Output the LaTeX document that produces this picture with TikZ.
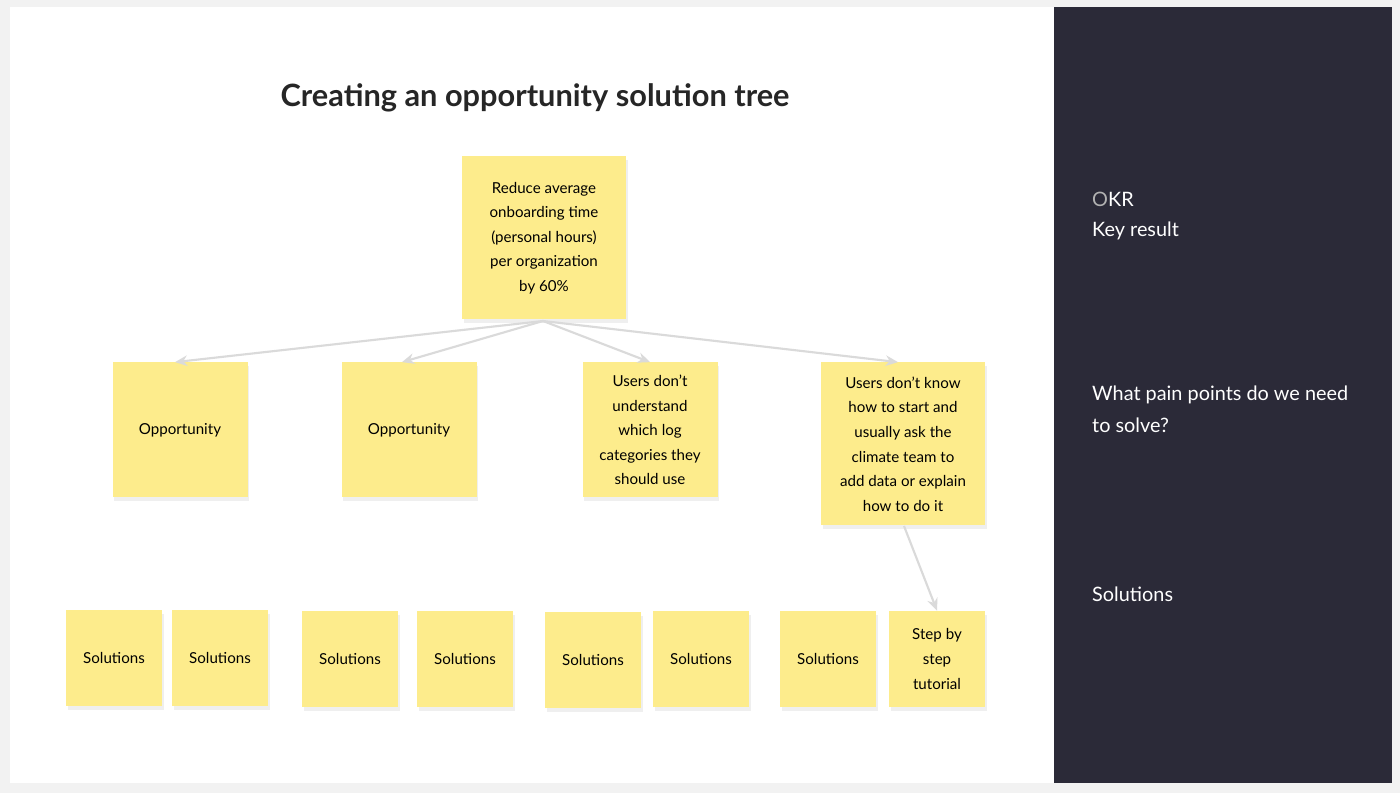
\documentclass[tikz,border=0pt]{standalone}
\usepackage{fontspec}
\setmainfont{Lato}
\usetikzlibrary{arrows.meta, shadows}

\definecolor{sticky}{HTML}{FDEC8C}
\definecolor{panel}{HTML}{2B2A38}
\definecolor{edgegray}{HTML}{DADADA}

\begin{document}
\begin{tikzpicture}[x=0.02cm, y=-0.02cm, font=\fontsize{8.6pt}{14pt}\selectfont]
  \tikzset{
    note/.style={
      fill=sticky,
      align=center,
      inner sep=2pt,
      drop shadow={shadow xshift=1pt, shadow yshift=-2pt, opacity=0.12}},
    link/.style={
      draw=edgegray,
      line width=1.2pt,
      -{Stealth[length=7pt,width=6pt]}},
    side/.style={
      text=white,
      anchor=west,
      align=left,
      font=\fontsize{11.3pt}{18pt}\selectfont}}

  % frame
  \fill[gray!10] (0,0) rectangle (1400,793);
  \fill[white] (10,7) rectangle (1054,783);
  \fill[panel] (1054,7) rectangle (1392,783);
  \useasboundingbox (0,0) rectangle (1400,793);

  \node[font=\bfseries\fontsize{17.5pt}{20pt}\selectfont, text=black!85] (title) at (535,98)
    {Creating an opportunity solution tree};

  % key result
  \node[note, minimum width=164*0.02cm, minimum height=163*0.02cm] (kr) at (544,238)
    {Reduce average\\onboarding time\\(personal hours)\\per organization\\by 60\%};

  % opportunities
  \node[note, minimum width=135*0.02cm, minimum height=135*0.02cm] (opp1) at (180,430) {Opportunity};
  \node[note, minimum width=135*0.02cm, minimum height=135*0.02cm] (opp2) at (409,430) {Opportunity};
  \node[note, minimum width=135*0.02cm, minimum height=135*0.02cm] (opp3) at (650,430)
    {Users don't\\understand\\which log\\categories they\\should use};
  \node[note, minimum width=164*0.02cm, minimum height=163*0.02cm] (opp4) at (903,444)
    {Users don't know\\how to start and\\usually ask the\\climate team to\\add data or explain\\how to do it};

  % solutions
  \foreach \name/\xx/\yy in {s1/114/658, s2/220/658, s3/350/659, s4/465/659,
                             s5/593/660, s6/701/659, s7/828/659}
    \node[note, minimum width=96*0.02cm, minimum height=96*0.02cm] (\name) at (\xx,\yy) {Solutions};
  \node[note, minimum width=96*0.02cm, minimum height=96*0.02cm] (s8) at (937,659)
    {Step by\\step\\tutorial};

  % connectors
  \coordinate (krb) at (543,321);
  \draw[link] (krb) -- (opp1.north -| 175,0);
  \draw[link] (krb) -- (opp2.north -| 402,0);
  \draw[link] (krb) -- (opp3.north);
  \draw[link] (krb) -- (opp4.north -| 898,0);
  \draw[link] (904,526) -- (s8.north);

  % side panel
  \node[side] (okr) at (1086,199) {\textcolor{gray!60}{O}KR};
  \node[side] (keyres) at (1086,231) {Key result};
  \node[side] (pain) at (1086,409) {What pain points do we need\\to solve?};
  \node[side] (sols) at (1086,594) {Solutions};
\end{tikzpicture}
\end{document}
